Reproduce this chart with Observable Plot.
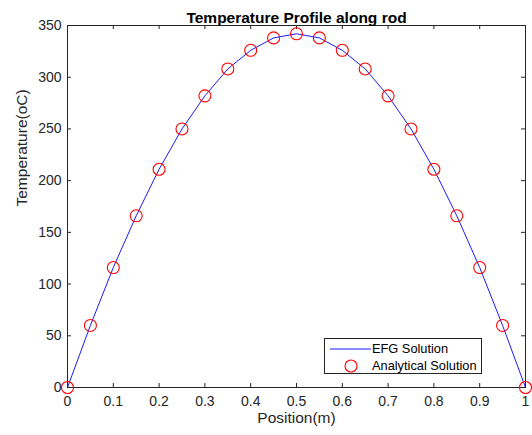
<!DOCTYPE html>
<html>
<head>
<meta charset="utf-8">
<script src="https://cdn.jsdelivr.net/npm/d3@7"></script>
<script src="https://cdn.jsdelivr.net/npm/@observablehq/plot@0.6"></script>
<style>
  body { margin: 0; background: #fff; }
  #wrap { position: relative; width: 532px; height: 435px; font-family: "Liberation Sans", Arial, sans-serif; }
  #legend { position: absolute; left: 324px; top: 338px; width: 158px; height: 36px; background: #fff; border: 1px solid #262626; box-sizing: border-box; font-size: 12.8px; color: #000; }
  .row { position: absolute; left: 0; height: 16px; }
  .row span { position: absolute; left: 47px; white-space: nowrap; }
</style>
</head>
<body>
<div id="wrap"></div>
<script>
const positions = [0, 0.05, 0.1, 0.15, 0.2, 0.25, 0.3, 0.35, 0.4, 0.45, 0.5, 0.55, 0.6, 0.65, 0.7, 0.75, 0.8, 0.85, 0.9, 0.95, 1];
const efgTemps = [0, 60, 116, 166, 211, 250, 282, 308, 326, 338, 342, 338, 326, 308, 282, 250, 211, 166, 116, 60, 0];
const analyticalTemps = [0, 60, 116, 166, 211, 250, 282, 308, 326, 338, 342, 338, 326, 308, 282, 250, 211, 166, 116, 60, 0];
const xTicks = [0, 0.1, 0.2, 0.3, 0.4, 0.5, 0.6, 0.7, 0.8, 0.9, 1];
const yTicks = [0, 50, 100, 150, 200, 250, 300, 350];
const titleText = "Temperature Profile along rod";
const xLabel = "Position(m)";
const yLabel = "Temperature(oC)";
const legendLabels = ["EFG Solution", "Analytical Solution"];

const efg = positions.map((x, i) => ({x, y: efgTemps[i]}));
const analytical = positions.map((x, i) => ({x, y: analyticalTemps[i]}));

const W = 532, H = 435, mL = 67, mR = 7, mT = 25, mB = 48;
const iw = W - mL - mR, ih = H - mT - mB;
const axisColor = "#262626";

const chart = Plot.plot({
  width: W, height: H,
  marginLeft: mL, marginRight: mR, marginTop: mT, marginBottom: mB,
  style: {fontFamily: "'Liberation Sans', Arial, sans-serif", fontSize: "14px", color: axisColor, background: "#fff"},
  x: {domain: [0, 1]},
  y: {domain: [0, 350]},
  marks: [
    Plot.frame({stroke: axisColor, strokeWidth: 1}),
    Plot.tickX(xTicks, {x: d => d, insetTop: ih - 4, stroke: axisColor}),
    Plot.tickX(xTicks, {x: d => d, insetBottom: ih - 4, stroke: axisColor}),
    Plot.tickY(yTicks, {y: d => d, insetRight: iw - 4, stroke: axisColor}),
    Plot.tickY(yTicks, {y: d => d, insetLeft: iw - 4, stroke: axisColor}),
    Plot.axisX({ticks: xTicks, tickSize: 0, tickPadding: 9, label: null, tickFormat: d => String(d), fontSize: 14}),
    Plot.axisY({ticks: yTicks, tickSize: 0, tickPadding: 6, label: null, tickFormat: d => String(d), fontSize: 14}),
    Plot.line(efg, {x: "x", y: "y", stroke: "#0000ff", strokeWidth: 0.9}),
    Plot.dot(analytical, {x: "x", y: "y", r: 6, stroke: "#ff0000", strokeWidth: 1.1, fill: "none"}),
    Plot.text([titleText], {frameAnchor: "top", dy: -14, fontWeight: "bold", fontSize: 15.5, fill: "#000"}),
    Plot.text([xLabel], {frameAnchor: "bottom", dy: 35, fontSize: 15.5, fill: axisColor}),
    Plot.text([yLabel], {frameAnchor: "left", dx: -45, rotate: -90, fontSize: 15.5, fill: axisColor})
  ]
});

const wrap = document.getElementById("wrap");
wrap.appendChild(chart);

const legend = document.createElement("div");
legend.id = "legend";
legend.innerHTML = `
  <div class="row" style="top:2px">
    <svg width="46" height="16" style="position:absolute;left:0;top:0"><line x1="5" x2="46" y1="8" y2="8" stroke="#0000ff" stroke-width="0.9"/></svg>
    <span style="top:0;line-height:16px">${legendLabels[0]}</span>
  </div>
  <div class="row" style="top:19px">
    <svg width="46" height="16" style="position:absolute;left:0;top:0"><circle cx="26" cy="8" r="6" fill="none" stroke="#ff0000" stroke-width="1.1"/></svg>
    <span style="top:0;line-height:16px">${legendLabels[1]}</span>
  </div>`;
wrap.appendChild(legend);
</script>
</body>
</html>
